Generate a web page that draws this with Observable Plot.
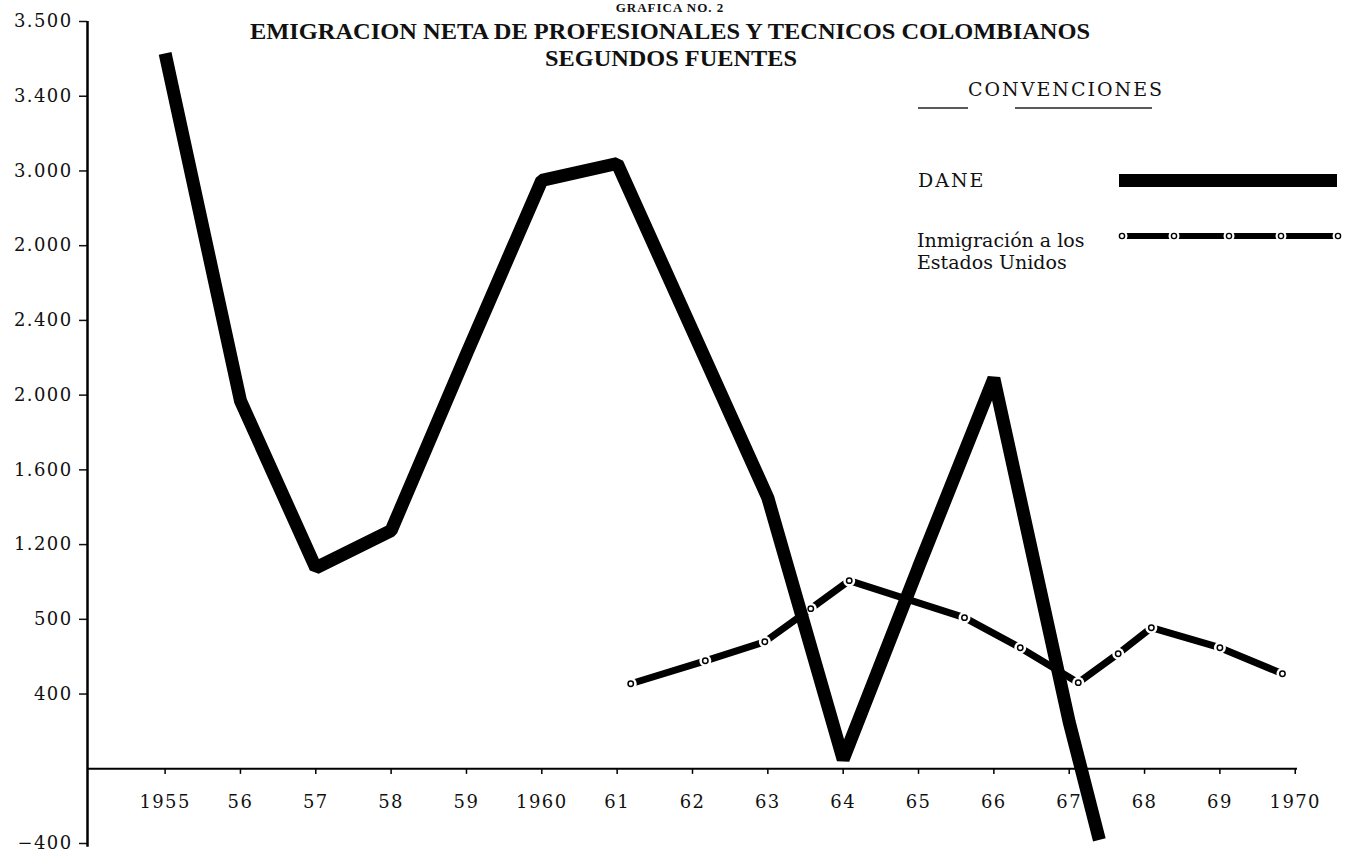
<!DOCTYPE html>
<html>
<head>
<meta charset="utf-8">
<script src="https://cdn.jsdelivr.net/npm/d3@7"></script>
<script src="https://cdn.jsdelivr.net/npm/@observablehq/plot@0.6"></script>
<style>
  html, body { margin: 0; padding: 0; background: #fff; overflow: hidden; }
  #wrap { position: relative; width: 1350px; height: 854px; }
  #overlay { position: absolute; left: 0; top: 0; pointer-events: none; }
</style>
</head>
<body>
<div id="wrap">
  <div id="chart"></div>
  <svg id="overlay" width="1350" height="854" xmlns="http://www.w3.org/2000/svg">
    <g font-family="'Liberation Serif', serif" font-weight="bold" fill="#111" text-anchor="middle">
      <text x="670" y="12" font-size="13" letter-spacing="1">GRAFICA NO. 2</text>
      <text x="670" y="39" font-size="24" textLength="840" lengthAdjust="spacingAndGlyphs">EMIGRACION NETA DE PROFESIONALES Y TECNICOS COLOMBIANOS</text>
      <text x="671" y="66" font-size="24" textLength="252" lengthAdjust="spacingAndGlyphs">SEGUNDOS FUENTES</text>
    </g>
    <g font-family="'DejaVu Serif', serif" font-size="19" fill="#111">
      <text x="968" y="96" letter-spacing="2">CONVENCIONES</text>
      <line x1="918" y1="108" x2="968" y2="108" stroke="#222" stroke-width="1.3"/>
      <line x1="1015" y1="108" x2="1152" y2="108" stroke="#222" stroke-width="1.3"/>
      <text x="918" y="187" letter-spacing="2">DANE</text>
      <rect x="1119" y="174" width="218" height="13" fill="#000"/>
      <text x="917" y="247">Inmigración a los</text>
      <text x="917" y="269">Estados Unidos</text>
      <line x1="1120" y1="236" x2="1342" y2="236" stroke="#000" stroke-width="6"/>
      <g fill="#fff">
        <circle cx="1122" cy="236" r="5.5"/>
        <circle cx="1174" cy="236" r="5.5"/>
        <circle cx="1229" cy="236" r="5.5"/>
        <circle cx="1281" cy="236" r="5.5"/>
        <circle cx="1338" cy="236" r="5.5"/>
      </g>
      <g fill="#fff" stroke="#000" stroke-width="1.4">
        <circle cx="1122" cy="236" r="2.6"/>
        <circle cx="1174" cy="236" r="2.6"/>
        <circle cx="1229" cy="236" r="2.6"/>
        <circle cx="1281" cy="236" r="2.6"/>
        <circle cx="1338" cy="236" r="2.6"/>
      </g>
    </g>
  </svg>
</div>
<script>
// Tick values and printed labels (as printed on the original chart)
const yearTicks = [1955, 1956, 1957, 1958, 1959, 1960, 1961, 1962, 1963, 1964, 1965, 1966, 1967, 1968, 1969, 1970];
const yearLabels = ["1955", "56", "57", "58", "59", "1960", "61", "62", "63", "64", "65", "66", "67", "68", "69", "1970"];
const valueTicks = [-400, 400, 800, 1200, 1600, 2000, 2400, 2800, 3200, 3600, 4000];
const valueLabels = ["\u2212400", "400", "500", "1.200", "1.600", "2.000", "2.400", "2.000", "3.000", "3.400", "3.500"];

// DANE series
const daneYears = [1955, 1956, 1957, 1958, 1959, 1960, 1961, 1962, 1963, 1964, 1965, 1966, 1967, 1967.4];
const daneValues = [3830, 1970, 1075, 1275, 2220, 3150, 3240, 2345, 1450, 50, 1080, 2090, 250, -380];

// Inmigración a los Estados Unidos series
const usYears = [1961.18, 1962.17, 1962.96, 1963.57, 1964.08, 1965.61, 1966.35, 1967.12, 1967.65, 1968.09, 1969.0, 1969.83];
const usValues = [455, 578, 680, 857, 1007, 809, 648, 461, 616, 755, 648, 509];

const xDomain = [1953.97, 1970.03];

const chart = Plot.plot({
  width: 1350,
  height: 854,
  marginLeft: 87,
  marginRight: 53,
  marginTop: 21,
  marginBottom: 11,
  x: {type: "linear", domain: xDomain, axis: null},
  y: {type: "linear", domain: [-400, 4000], axis: null},
  style: {fontFamily: "'DejaVu Serif', serif", fontSize: "18px", color: "#111", background: "#fff", letterSpacing: "1.4px"},
  marks: [
    Plot.axisY({ticks: valueTicks, tickSize: 8, tickPadding: 7, strokeWidth: 1.5, fontSize: 18,
      tickFormat: (d) => valueLabels[valueTicks.indexOf(d)]}),
    Plot.ruleX([xDomain[0]], {y1: -420, y2: 4000, stroke: "#000", strokeWidth: 2.5}),
    Plot.ruleY([0], {x1: xDomain[0], x2: xDomain[1], stroke: "#000", strokeWidth: 2}),
    Plot.ruleX(yearTicks, {y1: 0, y2: -30, stroke: "#000", strokeWidth: 1.5}),
    Plot.text(yearLabels, {x: yearTicks, y: 0, dy: 33, fontSize: 18, fill: "#111"}),
    Plot.line(usValues, {x: usYears, y: usValues, stroke: "#000", strokeWidth: 7, strokeLinejoin: "miter"}),
    Plot.dot(usValues, {x: usYears, y: usValues, r: 6, fill: "#fff"}),
    Plot.dot(usValues, {x: usYears, y: usValues, r: 2.7, fill: "#fff", stroke: "#000", strokeWidth: 1.5}),
    Plot.line(daneValues, {x: daneYears, y: daneValues, stroke: "#000", strokeWidth: 13,
      strokeLinejoin: "miter", strokeLinecap: "butt"})
  ]
});
document.getElementById("chart").appendChild(chart);
</script>
</body>
</html>
